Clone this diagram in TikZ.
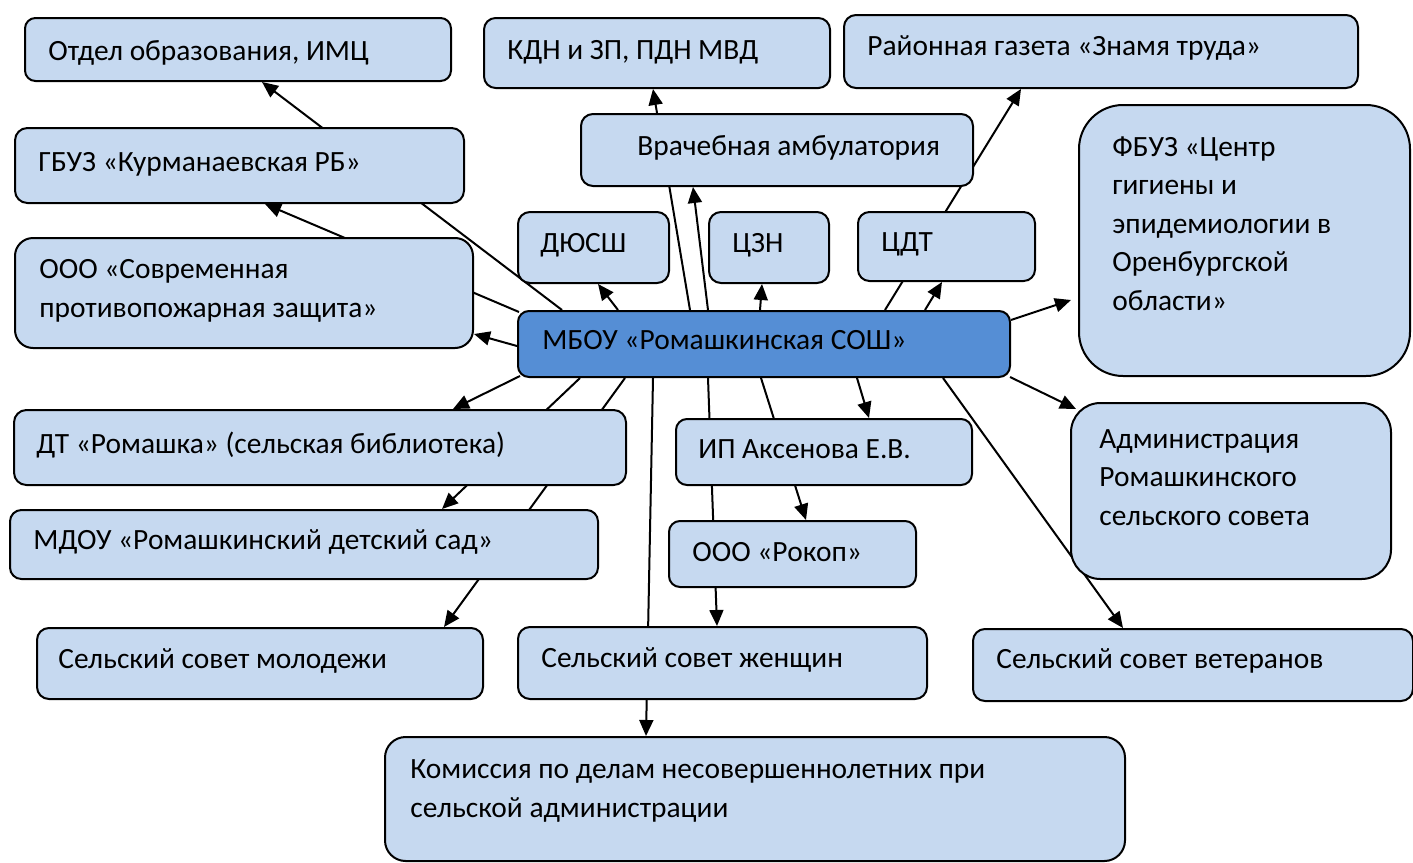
\documentclass[tikz,border=0pt]{standalone}
\usepackage{fontspec}
\setmainfont{Carlito}
\usetikzlibrary{arrows.meta,calc}
\definecolor{lb}{RGB}{198,217,240}
\definecolor{db}{RGB}{85,142,213}
\pgfdeclarelayer{bg}
\pgfsetlayers{bg,main}
\tikzset{
  box/.style={draw=black, line width=1pt, inner sep=0pt, anchor=north west},
  lbl/.style={inner sep=0pt, anchor=base west, align=left,
    font=\fontsize{14.7pt}{19.25pt}\selectfont},
  con/.style={line width=1pt},
  arr/.style={con, -{Triangle[length=8pt,width=7pt]}},
}
\newcommand\mkbox[7]{\node[box, fill=#7, rounded corners=#6,
  minimum width={(#4-#2)*0.5pt}, minimum height={(#5-#3)*0.5pt}] (#1) at (#2,#3) {};}
\begin{document}
\begin{tikzpicture}[x=0.5pt,y=-0.5pt]
\useasboundingbox (0,0) rectangle (1413,862);
% boxes
\mkbox{o}{24}{17}{450}{80}{5.25pt}{lb}
\mkbox{k}{483}{17}{829}{87}{5.8pt}{lb}
\mkbox{g}{843}{14}{1357}{87}{6pt}{lb}
\mkbox{gb}{14}{127}{463}{202}{6.2pt}{lb}
\mkbox{v}{580}{113}{972}{185}{6pt}{lb}
\mkbox{f}{1078}{104}{1409}{375}{22pt}{lb}
\mkbox{s}{14}{237}{472}{347}{9pt}{lb}
\mkbox{d}{517}{211}{668}{282}{6pt}{lb}
\mkbox{c}{708}{211}{828}{282}{6pt}{lb}
\mkbox{t}{857}{211}{1034}{280}{5.7pt}{lb}
\mkbox{m}{517}{310}{1009}{376}{5.5pt}{db}
\mkbox{dt}{13}{409}{625}{484}{6.2pt}{lb}
\mkbox{ip}{675}{418}{971}{484}{5.5pt}{lb}
\mkbox{a}{1070}{402}{1390}{578}{14.7pt}{lb}
\mkbox{md}{9}{509}{597}{578}{5.7pt}{lb}
\mkbox{r}{668}{520}{915}{586}{5.5pt}{lb}
\mkbox{ym}{36}{627}{482}{698}{6pt}{lb}
\mkbox{w}{517}{626}{926}{698}{6pt}{lb}
\mkbox{vet}{972}{628}{1412}{700}{6pt}{lb}
\mkbox{km}{384}{736}{1124}{860}{10.3pt}{lb}
% texts (anchor = baseline of the last line)
\node[lbl] (o-t) at (48,60) {Отдел образования, ИМЦ};
\node[lbl] (k-t) at (507,59) {КДН и ЗП, ПДН МВД};
\node[lbl] (g-t) at (867,55) {Районная газета «Знамя труда»};
\node[lbl] (gb-t) at (38,171) {ГБУЗ «Курманаевская РБ»};
\node[lbl] (v-t) at (637,155) {Врачебная амбулатория};
\node[lbl] (f-t) at (1112,310) {ФБУЗ «Центр\\гигиены и\\эпидемиологии в\\Оренбургской\\области»};
\node[lbl] (s-t) at (39,317) {ООО «Современная\\противопожарная защита»};
\node[lbl] (d-t) at (540,252) {ДЮСШ};
\node[lbl] (c-t) at (732,252) {ЦЗН};
\node[lbl] (t-t) at (881,251) {ЦДТ};
\node[lbl] (m-t) at (542,349) {МБОУ «Ромашкинская СОШ»};
\node[lbl] (dt-t) at (36,453) {ДТ «Ромашка» (сельская библиотека)};
\node[lbl] (ip-t) at (698,458) {ИП Аксенова Е.В.};
\node[lbl] (a-t) at (1099,525) {Администрация\\Ромашкинского\\сельского совета};
\node[lbl] (md-t) at (33,549) {МДОУ «Ромашкинский детский сад»};
\node[lbl] (r-t) at (692,561) {ООО «Рокоп»};
\node[lbl] (ym-t) at (58,668) {Сельский совет молодежи};
\node[lbl] (w-t) at (541,667) {Сельский совет женщин};
\node[lbl] (vet-t) at (996,668) {Сельский совет ветеранов};
\node[lbl] (km-t) at (410,817) {Комиссия по делам несовершеннолетних при\\сельской администрации};
% connectors (behind the boxes)
\begin{pgfonlayer}{bg}
\fill[white] (0,0) rectangle (1413,862);
\draw[arr] ($(m.north west)+(45,0)$) -- ($(o.south west)+(238,0)$);
\draw[arr] ($(m.north west)+(2,2)$) -- ($(gb.south west)+(251,0)$);
\draw[arr] ($(m.north west)+(0,36)$) -- ($(s.south east)+(0,-15)$);
\draw[arr] ($(m.north west)+(101,0)$) -- ($(d.south west)+(81,0)$);
\draw[arr] ($(m.north west)+(173,0)$) -- ($(k.south west)+(170,0)$);
\draw[arr] ($(m.north west)+(191,0)$) -- ($(v.south west)+(113,0)$);
\draw[arr] ($(m.north west)+(243,0)$) -- ($(c.south west)+(54,0)$);
\draw[arr] ($(m.north west)+(408,0)$) -- ($(t.south west)+(85,0)$);
\draw[arr] ($(m.north west)+(368,0)$) -- ($(g.south west)+(178,0)$);
\draw[arr] ($(m.north east)+(0,10)$) -- ($(f.north west)+(-7,196)$);
\draw[arr] ($(m.south east)+(-1,-1)$) -- ($(a.north west)+(6,7)$);
\draw[arr] ($(m.south west)+(426,0)$) -- ($(vet.north west)+(151,0)$);
\draw[arr] ($(m.south west)+(340,0)$) -- ($(ip.north west)+(194,0)$);
\draw[arr] ($(m.south west)+(244,0)$) -- ($(r.north west)+(138,0)$);
\draw[arr] ($(m.south west)+(191,0)$) -- ($(w.north west)+(200,0)$);
\draw[arr] ($(m.south west)+(136,0)$) -- ($(km.north west)+(262,0)$);
\draw[arr] ($(m.south west)+(3,-2)$) -- ($(dt.north west)+(440,0)$);
\draw[arr] ($(m.south west)+(63,0)$) -- ($(md.north west)+(433,0)$);
\draw[arr] ($(m.south west)+(108,0)$) -- ($(ym.north west)+(408,0)$);
\end{pgfonlayer}
\end{tikzpicture}
\end{document}
